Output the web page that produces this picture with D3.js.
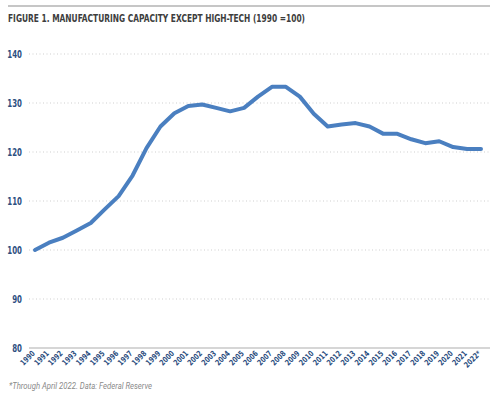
<!DOCTYPE html>
<html><head><meta charset="utf-8">
<script src="https://cdn.jsdelivr.net/npm/d3@7"></script>
<style>body{margin:0;background:#fff}</style>
</head><body>
<svg id="c" width="500" height="397"></svg>
<script>
const years = ["1990","1991","1992","1993","1994","1995","1996","1997","1998","1999","2000","2001","2002","2003","2004","2005","2006","2007","2008","2009","2010","2011","2012","2013","2014","2015","2016","2017","2018","2019","2020","2021","2022*"];
const values = [100,101.5,102.5,104,105.5,108.3,111,115.2,120.8,125.2,127.9,129.4,129.7,129.0,128.3,129.0,131.3,133.3,133.3,131.3,127.8,125.2,125.6,125.9,125.2,123.7,123.7,122.6,121.8,122.2,121.0,120.6,120.6];
const yTicks = [80,90,100,110,120,130,140];
const title = "FIGURE 1. MANUFACTURING CAPACITY EXCEPT HIGH-TECH (1990 =100)";
const note = "*Through April 2022. Data: Federal Reserve";

const svg = d3.select("#c");
const font = "'Liberation Sans Narrow','DejaVu Sans Condensed','Roboto',sans-serif";
const L = 29, R = 490, T = 54, B = 348;
const x = d3.scalePoint().domain(years).range([35, 481]);
const y = d3.scaleLinear().domain([80,140]).range([B, T]);

svg.append("line").attr("x1",8).attr("x2",490).attr("y1",6).attr("y2",6)
  .attr("stroke","#b3b3b3").attr("stroke-width",1.5);
svg.append("text").attr("x",8).attr("y",22).text(title)
  .attr("font-family",font).attr("font-weight","bold").attr("font-size",11)
  .attr("textLength",297).attr("lengthAdjust","spacingAndGlyphs")
  .attr("fill","#3d3d3d");

// grid
const grid = svg.append("g");
yTicks.forEach(t=>{
  grid.append("line").attr("x1",L).attr("x2",R).attr("y1",y(t)).attr("y2",y(t))
    .attr("stroke", t===80 ? "#c8c8c8" : "#cfcfcf")
    .attr("stroke-width", t===80 ? 1.5 : 1)
    .attr("stroke-dasharray", t===80 ? null : "1,2.5");
});
const yAxis = svg.append("g").attr("transform",`translate(22,0)`)
  .call(d3.axisLeft(y).tickValues(yTicks).tickSize(0).tickPadding(0));
yAxis.select(".domain").remove();
yAxis.selectAll("text").attr("font-family",font).attr("font-weight","bold")
  .attr("font-size",10).attr("fill","#2d4f7f").attr("transform","scale(0.78,1)");

const xAxis = svg.append("g").attr("transform",`translate(0,${B})`)
  .call(d3.axisBottom(x).tickSize(0).tickPadding(0));
xAxis.select(".domain").remove();
xAxis.selectAll("text").attr("font-family",font).attr("font-weight","bold")
  .attr("font-size",8).attr("fill","#2d4f7f")
  .attr("text-anchor","end").attr("dy",0)
  .attr("transform","translate(0,6) rotate(-45) scale(0.85,1)");

const line = d3.line().x((d,i)=>x(years[i])).y(d=>y(d));
svg.append("path").datum(values).attr("d",line).attr("fill","none")
  .attr("stroke","#4a7fc0").attr("stroke-width",4).attr("stroke-linejoin","round").attr("stroke-linecap","round");

svg.append("text").attr("x",9).attr("y",389).text(note)
  .attr("font-family","'Roboto','Liberation Sans',sans-serif").attr("font-style","italic")
  .attr("font-size",8.3).attr("textLength",143).attr("lengthAdjust","spacingAndGlyphs")
  .attr("fill","#8a8a8a");
</script>
</body></html>
